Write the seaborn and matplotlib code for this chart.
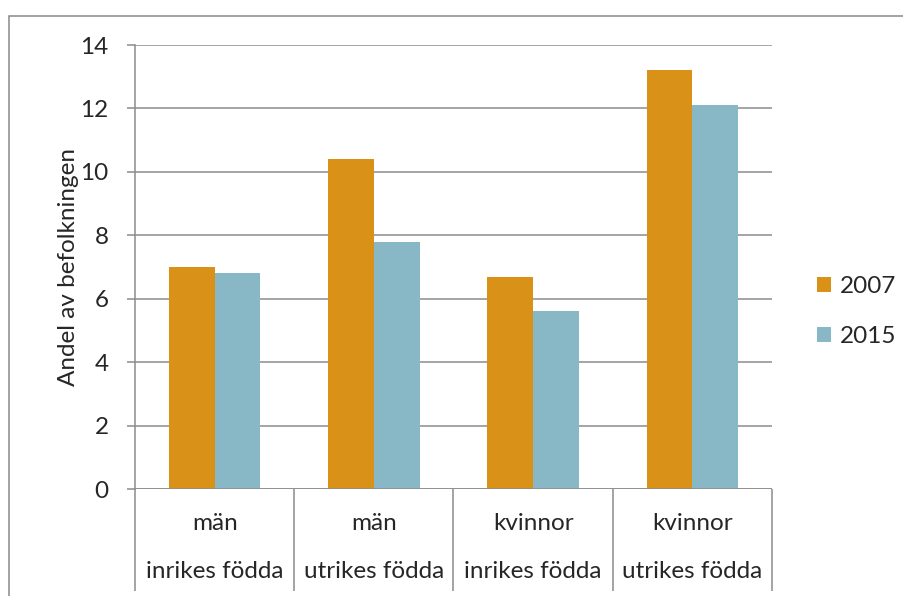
import pandas as pd
import matplotlib
matplotlib.use('Agg')
import matplotlib.pyplot as plt
import seaborn as sns
from matplotlib.patches import Rectangle

# Data
kon = ['män', 'män', 'kvinnor', 'kvinnor']
fodda = ['inrikes födda', 'utrikes födda', 'inrikes födda', 'utrikes födda']
grupper = [f'{k}\n{f}' for k, f in zip(kon, fodda)]
andel_2007 = [7.0, 10.4, 6.7, 13.2]
andel_2015 = [6.8, 7.8, 5.6, 12.1]
ar = ['2007', '2015']
farger = ['#D99118', '#88B8C6']

df = pd.DataFrame({
    'grupp': grupper * 2,
    'ar': [ar[0]] * 4 + [ar[1]] * 4,
    'andel': andel_2007 + andel_2015,
})

FS = 17.5
sns.set_theme(style='white')
plt.rcParams['font.family'] = ['Lato', 'DejaVu Sans']
plt.rcParams['font.size'] = FS

W, H = 904, 596
fig = plt.figure(figsize=(W / 100, H / 100), dpi=100)
ax = fig.add_axes([135 / W, (H - 489) / H, (772 - 135) / W, (489 - 45) / H])

sns.barplot(data=df, x='grupp', y='andel', hue='ar', order=grupper,
            palette=farger, width=0.575, gap=0, saturation=1,
            edgecolor='none', ax=ax, legend=True)

grid = '#8C8C8C'
ax.set_ylim(0, 14)
ax.set_yticks(range(0, 15, 2))
ax.set_xlim(-0.5, 3.5)
ax.yaxis.grid(True, color=grid, linewidth=1.1)
ax.set_axisbelow(True)
for s in ['top', 'right', 'bottom']:
    ax.spines[s].set_visible(False)
ax.spines['left'].set_color(grid)
ax.spines['left'].set_linewidth(1.1)
ax.tick_params(axis='y', direction='out', length=6, width=1.1, color=grid,
               labelsize=FS, pad=13, left=True)
ax.tick_params(axis='x', bottom=False, labelbottom=False)
ax.axhline(0, color=grid, linewidth=1.1, zorder=3)
ax.set_xlabel('')
ax.set_ylabel('Andel av befolkningen', fontsize=FS)
ax.yaxis.set_label_coords(-0.088, 0.5)

# two-level category axis
tr = ax.get_xaxis_transform()
ax.vlines([-0.5, 0.5, 1.5, 2.5, 3.5], 0, -(591 - 489) / 444, transform=tr,
          color=grid, linewidth=1.1, clip_on=False)
for i, (k, f) in enumerate(zip(kon, fodda)):
    ax.text(i, -(523 - 489) / 444, k, transform=tr, ha='center', va='center', fontsize=FS)
    ax.text(i, -(571 - 489) / 444, f, transform=tr, ha='center', va='center', fontsize=FS)

leg = ax.legend(loc='center left', bbox_to_anchor=(1.055, 0.40), frameon=False,
                handlelength=0.6, handleheight=0.6, handletextpad=0.35,
                labelspacing=1.2, fontsize=FS, title=None, borderaxespad=0)

# outer chart border
fig.patches.append(Rectangle((9 / W, -0.1), 1.2, (H - 16) / H + 0.1,
                             transform=fig.transFigure, fill=False,
                             edgecolor='#898989', linewidth=1.1))

fig.savefig('out.png', dpi=100)
